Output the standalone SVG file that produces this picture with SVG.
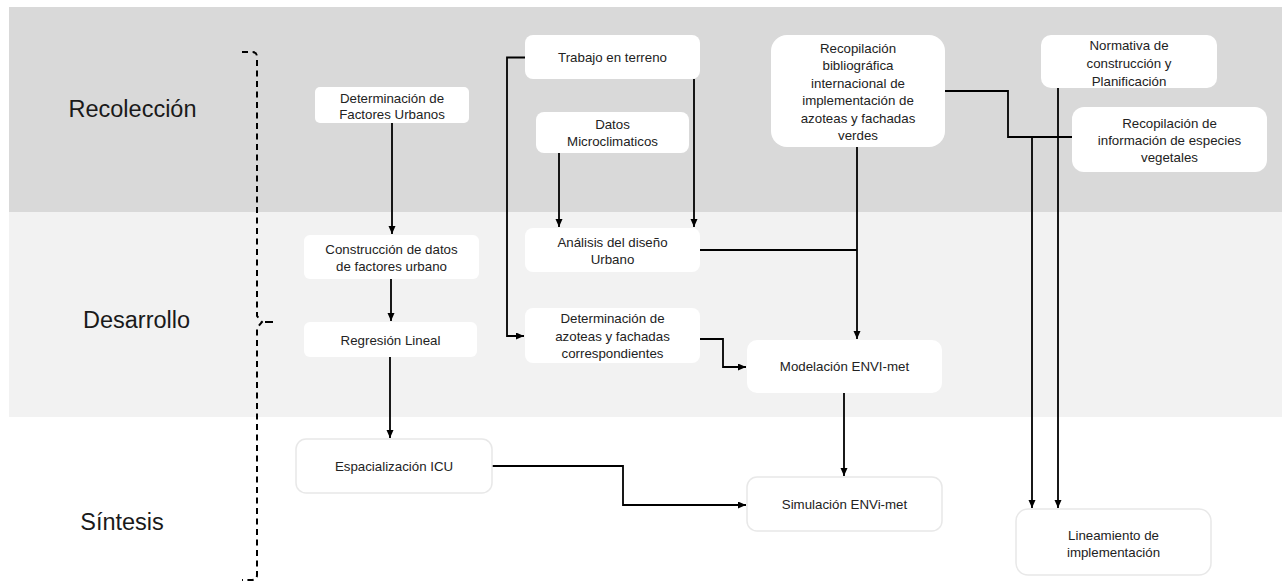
<svg xmlns="http://www.w3.org/2000/svg" width="1288" height="584" viewBox="0 0 1288 584">
<defs>
<marker id="ah" markerUnits="userSpaceOnUse" markerWidth="9" markerHeight="8" refX="8" refY="3.5" orient="auto">
<path d="M0,0 L8,3.5 L0,7 z" fill="#000"/>
</marker>
<style>
.node rect{fill:#fff;}
.node.out rect{stroke:#e8e8e8;stroke-width:1.5;}
.node text{font-family:"Liberation Sans",Arial,sans-serif;font-size:13.3px;fill:#222;text-anchor:middle;}
.phase{font-family:"Liberation Sans",Arial,sans-serif;font-size:23.5px;fill:#1a1a1a;text-anchor:middle;}
.conn path{fill:none;stroke:#000;stroke-width:1.8;}
.arr{marker-end:url(#ah);}
.brace{fill:none;stroke:#000;stroke-width:2;stroke-dasharray:6 4.5;}
</style>
</defs>
<rect x="0" y="0" width="1288" height="584" fill="#fff"/>
<rect x="9" y="7" width="1273" height="205" fill="#d9d9d9"/>
<rect x="9" y="212" width="1273" height="205" fill="#f2f2f2"/>

<g id="phases">
<text class="phase" x="132.5" y="117">Recolección</text>
<text class="phase" x="136.5" y="328">Desarrollo</text>
<text class="phase" x="122" y="530">Síntesis</text>
</g>

<g id="brace">
<path class="brace" d="M242,52 H252 Q257,52 257,57 V316 L262,322 L257,328 V575 Q257,580 252,580 H242"/>
<path class="brace" d="M265,322 H273" style="stroke-dasharray:none"/>
</g>

<g class="conn" id="connectors">
<path class="arr" d="M392,123 V234"/>
<path class="arr" d="M391,279 V321"/>
<path class="arr" d="M390,357 V438"/>
<path class="arr" d="M525,57.5 H507 V336 H524"/>
<path class="arr" d="M694,79 V227"/>
<path class="arr" d="M559,153 V227"/>
<path d="M700,250 H857"/>
<path class="arr" d="M857,147 V339"/>
<path class="arr" d="M700,339 H723 V367 H746"/>
<path class="arr" d="M844,393 V476"/>
<path class="arr" d="M492,466 H623 V505 H746"/>
<path d="M945,91 H1008 V137 H1072"/>
<path class="arr" d="M1032,137 V508"/>
<path class="arr" d="M1058,88 V508"/>
</g>

<g class="node" id="n-factores">
<rect x="315" y="87" width="154" height="36" rx="5"/>
<text x="392" y="102.5">Determinación de</text>
<text x="392" y="118.5">Factores Urbanos</text>
</g>
<g class="node" id="n-trabajo">
<rect x="525" y="35" width="175" height="44" rx="8"/>
<text x="612.5" y="62">Trabajo en terreno</text>
</g>
<g class="node" id="n-datos">
<rect x="536" y="112" width="153" height="41" rx="8"/>
<text x="612.5" y="128.5">Datos</text>
<text x="612.5" y="145.5">Microclimaticos</text>
</g>
<g class="node" id="n-recbib">
<rect x="771" y="35" width="174" height="112" rx="16"/>
<text x="858" y="52.5">Recopilación</text>
<text x="858" y="70">bibliográfica</text>
<text x="858" y="87.5">internacional de</text>
<text x="858" y="105">implementación de</text>
<text x="858" y="122.5">azoteas y fachadas</text>
<text x="858" y="140">verdes</text>
</g>
<g class="node" id="n-normativa">
<rect x="1041" y="35" width="176" height="53" rx="10"/>
<text x="1129" y="49.5">Normativa de</text>
<text x="1129" y="67.5">construcción y</text>
<text x="1129" y="85.5">Planificación</text>
</g>
<g class="node" id="n-recinfo">
<rect x="1072" y="107" width="195" height="65" rx="12"/>
<text x="1169.5" y="127.5">Recopilación de</text>
<text x="1169.5" y="144.5">información de especies</text>
<text x="1169.5" y="161.5">vegetales</text>
</g>
<g class="node" id="n-construccion">
<rect x="304" y="235" width="175" height="44" rx="6"/>
<text x="391.5" y="253.5">Construcción de datos</text>
<text x="391.5" y="271">de factores urbano</text>
</g>
<g class="node" id="n-regresion">
<rect x="304" y="322" width="173" height="35" rx="6"/>
<text x="390.5" y="344.5">Regresión Lineal</text>
</g>
<g class="node" id="n-analisis">
<rect x="525" y="228" width="175" height="44" rx="8"/>
<text x="612.5" y="246.5">Análisis del diseño</text>
<text x="612.5" y="263.5">Urbano</text>
</g>
<g class="node" id="n-azoteas">
<rect x="525" y="308" width="175" height="55" rx="8"/>
<text x="612.5" y="322.5">Determinación de</text>
<text x="612.5" y="340.5">azoteas y fachadas</text>
<text x="612.5" y="357.5">correspondientes</text>
</g>
<g class="node" id="n-modelacion">
<rect x="747" y="340" width="195" height="53" rx="10"/>
<text x="844.5" y="371">Modelación ENVI-met</text>
</g>
<g class="node out" id="n-espacializacion">
<rect x="296" y="439" width="196" height="54" rx="10"/>
<text x="394" y="471">Espacialización ICU</text>
</g>
<g class="node out" id="n-simulacion">
<rect x="747" y="477" width="195" height="54" rx="10"/>
<text x="844.5" y="509">Simulación ENVi-met</text>
</g>
<g class="node out" id="n-lineamiento">
<rect x="1016" y="509" width="195" height="66" rx="12"/>
<text x="1113.5" y="539.5">Lineamiento de</text>
<text x="1113.5" y="556.5">implementación</text>
</g>
</svg>
